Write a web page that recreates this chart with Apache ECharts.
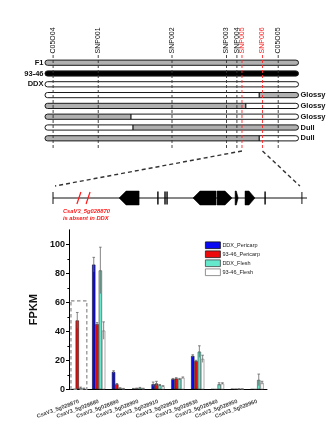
<!DOCTYPE html>
<html>
<head>
<meta charset="utf-8">
<script src="https://cdn.jsdelivr.net/npm/echarts@6/dist/echarts.min.js"></script>
<style>
  html, body { margin: 0; padding: 0; background: #fff; }
  #chart { width: 334px; height: 437px; }
</style>
</head>
<body>
<div id="chart"></div>
<script>
// ---- Fine-mapping interval: markers (relative position 0–100 along the interval)
const markerNames = ['C05O04', 'SNP001', 'SNP002', 'SNP003', 'SNP004', 'SNP005', 'SNP006', 'C05O05'];
const markerPos = [3.2, 21.0, 50.1, 71.6, 75.7, 77.7, 85.8, 92.0];
const markerFlank = [false, false, false, false, false, true, true, false];

// ---- Genotype rows (H = F1 type, B = 93-46 type, W = DDX type)
const rowNames = ['F1', '93-46', 'DDX', '', '', '', '', ''];
const rowPhenotypes = ['', '', '', 'Glossy', 'Glossy', 'Glossy', 'Dull', 'Dull'];
const rowSegments = [
  [['H', 0, 100]],
  [['B', 0, 100]],
  [['W', 0, 100]],
  [['W', 0, 84.5], ['H', 84.5, 100]],
  [['H', 0, 79.2], ['W', 79.2, 100]],
  [['H', 0, 33.9], ['W', 33.9, 100]],
  [['W', 0, 34.7], ['H', 34.7, 100]],
  [['H', 0, 84.5], ['W', 84.5, 100]]
];

// ---- Gene model of the candidate region (relative position 0–100)
const regionBounds = [0, 98];
const geneModels = [ // start, end, strand
  [26.0, 33.9, -1],
  [55.1, 64.2, -1],
  [64.6, 70.5, 1],
  [71.7, 72.9, 1],
  [75.6, 79.5, 1]
];
const exonMarks = [41.3, 44.1, 44.9, 83.5];
const deletionMarks = [10.2, 13.8];
const deletionNote = ['CsaV3_5g028870', 'is absent in DDX'];

// ---- Expression (FPKM)
const genes = ['CsaV3_5g028870', 'CsaV3_5g028880', 'CsaV3_5g028890', 'CsaV3_5g028900', 'CsaV3_5g028910',
               'CsaV3_5g028920', 'CsaV3_5g028930', 'CsaV3_5g028940', 'CsaV3_5g028950', 'CsaV3_5g028960'];
const seriesNames = ['DDX_Pericarp', '93-46_Pericarp', 'DDX_Flesh', '93-46_Flesh'];
const ddxPericarp   = [0,    86,   12,  0.4, 3.5, 7.0, 23.0, 0,   0.2, 0];
const p9346Pericarp = [47.5, 45,   3.5, 0.6, 4.0, 7.5, 19.5, 0,   0.2, 0];
const ddxFlesh      = [1.0,  82,   0.8, 1.0, 2.8, 7.0, 26.0, 3.5, 0.2, 6.5];
const p9346Flesh    = [0.5,  40.5, 0.4, 0.5, 2.0, 8.0, 21.0, 4.0, 0.2, 4.5];
const ddxPericarpErr   = [0,   5,  0.8, 0.2, 1.5, 0.5, 0.8, 0,   0,   0];
const p9346PericarpErr = [5.5, 1,  0.5, 0.2, 1.5, 0.5, 0.5, 0,   0,   0];
const ddxFleshErr      = [0.5, 16, 0.3, 0.3, 0.5, 0.5, 4.0, 1.0, 0.1, 4.0];
const p9346FleshErr    = [0.3, 6,  0.2, 0.2, 0.5, 0.5, 2.5, 0.5, 0.1, 1.0];
const yTicks = [0, 20, 40, 60, 80, 100];
const yMinorTicks = [10, 30, 50, 70, 90];
const highlightGene = [[0, 61]]; // dashed frame around the deleted gene

const seriesValues = [ddxPericarp, p9346Pericarp, ddxFlesh, p9346Flesh];
const seriesErrors = [ddxPericarpErr, p9346PericarpErr, ddxFleshErr, p9346FleshErr];
const barColors = ['#0a0af2', '#ee0a0a', '#66e8cc', '#ffffff'];
const barBorders = ['#111', '#222', '#444', '#777'];
const genotypeColors = { H: '#b0b0b0', B: '#000000', W: '#ffffff' };
const BAR_W = 3.3;

const chart = echarts.init(document.getElementById('chart'), null, { renderer: 'canvas' });

function renderRow(params, api) {
  const i = api.value(1);
  const h = 5.2;
  const yc = api.coord([0, i])[1];
  const x0 = api.coord([0, i])[0];
  const x1 = api.coord([100, i])[0];
  const children = [];
  rowSegments[i].forEach(([g, a, b]) => {
    const xa = api.coord([a, i])[0];
    const xb = api.coord([b, i])[0];
    const rl = a === 0 ? 2.6 : 0, rr = b === 100 ? 2.6 : 0;
    children.push({
      type: 'rect',
      shape: { x: xa, y: yc - h / 2, width: xb - xa, height: h, r: [rl, rr, rr, rl] },
      style: { fill: genotypeColors[g] }
    });
    if (a > 0) {
      children.push({
        type: 'line',
        shape: { x1: xa, y1: yc - h / 2, x2: xa, y2: yc + h / 2 },
        style: { stroke: '#111', lineWidth: 1.2 }
      });
    }
  });
  children.push({
    type: 'rect',
    shape: { x: x0, y: yc - h / 2, width: x1 - x0, height: h, r: 2.6 },
    style: { fill: 'none', stroke: '#1a1a1a', lineWidth: 1 }
  });
  if (rowNames[i]) {
    children.push({
      type: 'text', x: x0 - 1.5, y: yc,
      style: { text: rowNames[i], align: 'right', verticalAlign: 'middle',
               font: 'bold 7.5px "Liberation Sans", Arial, sans-serif', fill: '#111' }
    });
  }
  if (rowPhenotypes[i]) {
    children.push({
      type: 'text', x: x1 + 2, y: yc,
      style: { text: rowPhenotypes[i], align: 'left', verticalAlign: 'middle',
               font: 'bold 7.5px "Liberation Sans", Arial, sans-serif', fill: '#111' }
    });
  }
  return { type: 'group', children };
}

function renderMarker(params, api) {
  const idx = api.value(2);
  const x = api.coord([api.value(0), 0])[0];
  const cs = params.coordSys;
  const col = markerFlank[idx] ? '#ff2a2a' : '#333';
  return {
    type: 'group',
    children: [
      {
        type: 'line',
        shape: { x1: x, y1: cs.y, x2: x, y2: cs.y + cs.height },
        style: { stroke: col, lineWidth: 0.9, lineDash: [3, 2] }
      },
      {
        type: 'text', x: x, y: cs.y - 1.5, rotation: Math.PI / 2,
        style: { text: markerNames[idx], align: 'left', verticalAlign: 'middle',
                 font: '7px "Liberation Sans", Arial, sans-serif',
                 fill: markerFlank[idx] ? '#ff1a1a' : '#111' }
      }
    ]
  };
}

function renderBackbone(params, api) {
  const a = api.coord([0, 0.5]);
  const b = api.coord([100, 0.5]);
  const children = [{
    type: 'line', shape: { x1: a[0], y1: a[1], x2: b[0], y2: b[1] },
    style: { stroke: '#111', lineWidth: 1 }
  }];
  regionBounds.forEach(v => {
    const p = api.coord([v, 0.5]);
    children.push({ type: 'line', shape: { x1: p[0], y1: p[1] - 6, x2: p[0], y2: p[1] + 6 },
                    style: { stroke: '#111', lineWidth: 1 } });
  });
  return { type: 'group', children };
}

function renderGene(params, api) {
  const s = api.coord([api.value(0), 0.5]);
  const e = api.coord([api.value(1), 0.5]);
  const strand = api.value(2);
  const yc = s[1], h = 7;
  const w = e[0] - s[0];
  const tip = Math.min(7, w * 0.6);
  let pts;
  if (strand < 0) {
    pts = [[s[0], yc], [s[0] + tip, yc - h], [e[0], yc - h], [e[0], yc + h], [s[0] + tip, yc + h]];
  } else {
    pts = [[s[0], yc - h], [e[0] - tip, yc - h], [e[0], yc], [e[0] - tip, yc + h], [s[0], yc + h]];
  }
  return {
    type: 'group',
    children: [
      { type: 'polygon', shape: { points: pts }, style: { fill: '#000', stroke: '#000', lineWidth: 0.5 } },
      { type: 'line', shape: { x1: e[0] + 0.2, y1: yc - h, x2: e[0] + 0.2, y2: yc + h },
        style: { stroke: strand < 0 ? '#000' : 'transparent', lineWidth: 0 } }
    ]
  };
}

function renderExon(params, api) {
  const p = api.coord([api.value(0), 0.5]);
  return { type: 'line', shape: { x1: p[0], y1: p[1] - 6.5, x2: p[0], y2: p[1] + 6.5 },
           style: { stroke: '#000', lineWidth: 1.4 } };
}

function renderDeletion(params, api) {
  const p = api.coord([api.value(0), 0.5]);
  const children = [{
    type: 'line', shape: { x1: p[0] - 2, y1: p[1] + 6, x2: p[0] + 2, y2: p[1] - 6 },
    style: { stroke: '#ff1a1a', lineWidth: 1.2 }
  }];
  if (params.dataIndex === 0) {
    deletionNote.forEach((t, k) => {
      children.push({
        type: 'text', x: p[0] - 16, y: p[1] + 13.5 + k * 6.8,
        style: { text: t, align: 'left', verticalAlign: 'middle',
                 font: 'italic bold 5.8px "Liberation Sans", Arial, sans-serif', fill: '#ff1a1a' }
      });
    });
  }
  return { type: 'group', children };
}

function renderErrors(params, api) {
  const c = api.value(0), v = api.value(1), err = api.value(2), s = api.value(3);
  if (!err) return null;
  const dx = (s - 1.5) * BAR_W;
  const top = api.coord([c, v + err]);
  const bot = api.coord([c, Math.max(v - err, 0)]);
  const x = top[0] + dx;
  return {
    type: 'group',
    children: [
      { type: 'line', shape: { x1: x, y1: bot[1], x2: x, y2: top[1] }, style: { stroke: '#666', lineWidth: 0.8 } },
      { type: 'line', shape: { x1: x - 1.3, y1: top[1], x2: x + 1.3, y2: top[1] }, style: { stroke: '#666', lineWidth: 0.8 } }
    ]
  };
}

function renderFrame(params, api) {
  const top = api.coord([api.value(0), api.value(1)]);
  const base = api.coord([api.value(0), 0]);
  const w = api.size([1, 0])[0] * 0.8;
  return {
    type: 'rect',
    shape: { x: top[0] - w / 2, y: top[1], width: w, height: base[1] - top[1] },
    style: { fill: 'none', stroke: '#8a8a8a', lineWidth: 1.2, lineDash: [3.5, 2.5] }
  };
}

const errorData = [];
seriesValues.forEach((vals, s) => vals.forEach((v, c) => errorData.push([c, v, seriesErrors[s][c], s])));

const option = {
  animation: false,
  backgroundColor: '#ffffff',
  textStyle: { fontFamily: '"Liberation Sans", Arial, sans-serif' },
  grid: [
    { left: 45, top: 55, width: 253.5, height: 95 },
    { left: 53, top: 186, width: 254, height: 24 },
    { left: 69, top: 229.8, width: 198, height: 159.5 }
  ],
  xAxis: [
    { gridIndex: 0, type: 'value', min: 0, max: 100, show: false },
    { gridIndex: 1, type: 'value', min: 0, max: 100, show: false },
    {
      gridIndex: 2, type: 'category', data: genes,
      axisLine: { lineStyle: { color: '#000', width: 1 } },
      axisTick: { show: false },
      axisLabel: { interval: 0, rotate: 20, margin: 12, fontSize: 5.5, fontWeight: 'bold', color: '#444' }
    }
  ],
  yAxis: [
    { gridIndex: 0, type: 'value', min: -0.713, max: 8.083, inverse: true, show: false },
    { gridIndex: 1, type: 'value', min: 0, max: 1, show: false },
    {
      gridIndex: 2, type: 'value', min: 0, max: 110, interval: 10, position: 'left',
      name: 'FPKM', nameLocation: 'middle', nameGap: 20,
      nameTextStyle: { fontSize: 11, fontWeight: 'bold', color: '#111' },
      axisLine: { show: true, lineStyle: { color: '#000', width: 1 } },
      axisTick: { show: true, length: 3, customValues: yTicks, lineStyle: { color: '#000' } },
      axisLabel: { customValues: yTicks, fontSize: 9, fontWeight: 'bold', color: '#111', margin: 4 },
      splitLine: { show: false }
    },
    {
      gridIndex: 2, type: 'value', min: 0, max: 110, interval: 10, position: 'left',
      axisLine: { show: false },
      axisTick: { show: true, length: 1.6, customValues: yMinorTicks, lineStyle: { color: '#000' } },
      axisLabel: { show: false },
      splitLine: { show: false }
    }
  ],
  legend: {
    orient: 'vertical', left: 205, top: 241.5, padding: 0,
    itemWidth: 15, itemHeight: 6.7, itemGap: 1.5, icon: 'rect',
    textStyle: { fontSize: 5.5, lineHeight: 7, color: '#222', padding: [0, 0, 0, -3] },
    data: seriesNames.map((n, s) => ({ name: n, itemStyle: { borderColor: barBorders[s], borderWidth: 0.8 } }))
  },
  series: [
    { type: 'custom', xAxisIndex: 0, yAxisIndex: 0, renderItem: renderRow, z: 2,
      data: rowNames.map((n, i) => [0, i]) },
    { type: 'custom', xAxisIndex: 0, yAxisIndex: 0, renderItem: renderMarker, z: 3,
      data: markerPos.map((p, i) => [p, 0, i]) },
    { type: 'custom', xAxisIndex: 1, yAxisIndex: 1, renderItem: renderBackbone, z: 2,
      data: [[0, 0.5]] },
    { type: 'custom', xAxisIndex: 1, yAxisIndex: 1, renderItem: renderGene, z: 3,
      data: geneModels },
    { type: 'custom', xAxisIndex: 1, yAxisIndex: 1, renderItem: renderExon, z: 3,
      data: exonMarks.map(v => [v, 0.5]) },
    { type: 'custom', xAxisIndex: 1, yAxisIndex: 1, renderItem: renderDeletion, z: 3,
      data: deletionMarks.map(v => [v, 0.5]) },
    ...seriesNames.map((n, s) => ({
      name: n, type: 'bar', xAxisIndex: 2, yAxisIndex: 2,
      data: seriesValues[s], barWidth: BAR_W, barGap: '0%',
      itemStyle: { color: barColors[s], borderColor: barBorders[s], borderWidth: 0.6 }
    })),
    { type: 'custom', xAxisIndex: 2, yAxisIndex: 2, renderItem: renderErrors, z: 5,
      data: errorData },
    { type: 'custom', xAxisIndex: 2, yAxisIndex: 2, renderItem: renderFrame, z: 6,
      data: highlightGene }
  ]
};

chart.setOption(option);

// Dashed guides linking the flanking markers to the gene model below
const mapBottom = 8.083;
const a1 = chart.convertToPixel({ gridIndex: 0 }, [markerPos[5], mapBottom]);
const a2 = chart.convertToPixel({ gridIndex: 1 }, [regionBounds[0] + 0.8, 1]);
const b1 = chart.convertToPixel({ gridIndex: 0 }, [markerPos[6], mapBottom]);
const b2 = chart.convertToPixel({ gridIndex: 1 }, [regionBounds[1] - 0.8, 1]);
const guideStyle = { stroke: '#333', lineWidth: 1.4, lineDash: [4, 3] };
chart.setOption({
  graphic: [
    { type: 'line', shape: { x1: a1[0], y1: a1[1] + 1, x2: a2[0], y2: a2[1] }, style: guideStyle },
    { type: 'line', shape: { x1: b1[0], y1: b1[1] + 1, x2: b2[0], y2: b2[1] }, style: guideStyle }
  ]
});
</script>
</body>
</html>
